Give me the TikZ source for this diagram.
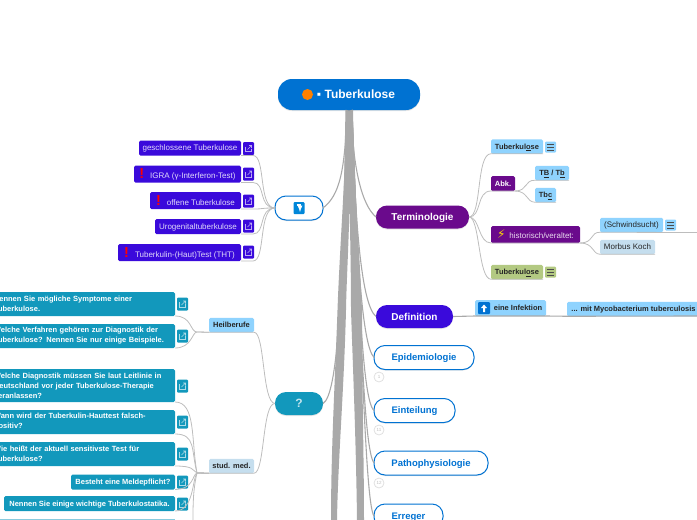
\documentclass[tikz,border=0pt]{standalone}
\usepackage{fontspec}
\setmainfont{Liberation Sans}
\newfontfamily\symbfont{DejaVu Sans}
\usetikzlibrary{shadows}

\definecolor{rootblue}{HTML}{0072D2}
\definecolor{indigo}{HTML}{3A0ADB}
\definecolor{violet}{HTML}{6A0A8C}
\definecolor{teal}{HTML}{1298BC}
\definecolor{sky}{HTML}{8FD3FE}
\definecolor{pale}{HTML}{C5DEEE}
\definecolor{moss}{HTML}{B3C982}
\definecolor{stem}{HTML}{A9A9A9}
\definecolor{twig}{HTML}{BDBDBD}

\tikzset{
  x=1pt, y=-1pt,
  every node/.style={inner sep=0pt, outer sep=0pt, text depth=0pt},
  mainnode/.style={rounded corners=11pt, minimum height=23pt, text=white, anchor=west,
    font=\fontsize{10}{12}\selectfont\bfseries,
    drop shadow={shadow xshift=0pt, shadow yshift=-1pt, opacity=.2}},
  hollownode/.style={mainnode, fill=white, draw=rootblue, line width=1pt, text=rootblue, minimum height=24pt,
    font=\fontsize{9.5}{12}\selectfont\bfseries},
  leaf/.style={rounded corners=1.5pt, anchor=east, fill=indigo, text=white!85!indigo,
    minimum height=15pt, font=\fontsize{8}{9}\selectfont},
  quiz/.style={leaf, fill=teal, text=white, font=\fontsize{7.5}{10}\selectfont\bfseries, align=left},
  quizwide/.style={quiz, minimum width=186pt, minimum height=24pt, text width=176pt, text depth=},
  tag/.style={rounded corners=1.5pt, anchor=west, fill=sky, text=black!85,
    minimum height=14.5pt, font=\fontsize{7.5}{9}\selectfont\bfseries},
  plaintag/.style={tag, font=\fontsize{8}{9}\selectfont},
  twigline/.style={draw=twig, line width=.8pt},
  stemline/.style={draw=stem, line width=1.1pt},
  hint/.style={circle, draw=black!12, line width=.8pt, fill=white, minimum size=10pt,
    text=black!25, font=\fontsize{4.5}{5}\selectfont},
  linkicon/.pic={
    \fill[pic actions, rounded corners=1pt] (-5.5,-6.5) rectangle (5.5,6.5);
    \draw[white, opacity=.65, line width=.6pt] (-3,-2) -- (-3,3) -- (2.5,3) -- (2.5,0);
    \draw[white, opacity=.65, line width=.6pt] (-1,1) -- (3,-3) (0.5,-3) -- (3,-3) -- (3,-.5);
  },
  noteicon/.pic={
    \fill[pic actions, rounded corners=1pt] (-5.5,-5.5) rectangle (5.5,5.5);
    \draw[black!70, line width=.6pt] (-3.5,-3) -- (3.5,-3) (-3.5,0) -- (3.5,0) (-3.5,3) -- (3.5,3);
  }
}

\begin{document}
\begin{tikzpicture}
  \clip (0,0) rectangle (697,520);

  % trunk
  \fill[stem] (346,110) -- (353,110) .. controls (353,170) and (359,240) .. (362,310)
    .. controls (362,390) and (364,460) .. (364,520) -- (357,520)
    .. controls (356,440) and (353,370) .. (351,310)
    .. controls (351,270) and (350,230) .. (349.5,200)
    .. controls (349,240) and (346.5,280) .. (346,310)
    .. controls (344,390) and (338,460) .. (337,520) -- (331,520)
    .. controls (331,450) and (335,380) .. (337.5,310)
    .. controls (340,240) and (346,170) .. (346,110) -- cycle;

  % central topic
  \node[mainnode, fill=rootblue, anchor=center, minimum width=142pt, minimum height=31pt, rounded corners=14pt,
    font=\fontsize{12}{14}\selectfont\bfseries, drop shadow={opacity=0}] (root) at (349,94.5) {\hspace{14pt}▪ Tuberkulose};
  \node[circle, fill=orange, minimum size=11pt] (dot) at (307.5,94.5) {};

  % main branches
  \node[hollownode, minimum width=48pt] (signs) at (275,208) {};
  \node[mainnode, fill=teal, minimum width=48pt, font=\fontsize{12}{14}\selectfont\bfseries] (quest) at (275,403.5) {\textcolor{white!75!teal}{?}};
  \node[mainnode, fill=violet, minimum width=93pt] (term) at (376,217) {Terminologie};
  \node[mainnode, fill=indigo, minimum width=77pt] (defi) at (376,316.5) {Definition};
  \node[hollownode, minimum width=100pt] (epid) at (374,357.5) {Epidemiologie};
  \node[hollownode, minimum width=81pt] (eint) at (374,410.5) {Einteilung};
  \node[hollownode, minimum width=114pt] (path) at (374,463) {Pathophysiologie};
  \node[hollownode, minimum width=69pt] (erre) at (374,516) {Erreger};

  \node[hint] (h1) at (379,377) {1};
  \node[hint] (h2) at (379,430) {11};
  \node[hint] (h3) at (379,483) {12};

  % stems from the root
  \draw[stemline] (root.south) ++(-2,0) .. controls (345,170) and (340,195) .. (signs.east);
  \draw[stemline] (root.south) ++(2,0) .. controls (353,170) and (362,205) .. (term.west);
  \draw[stemline] (root.south) ++(-3,0) .. controls (343,290) and (338,395) .. (quest.east);
  \draw[stemline] (root.south) ++(3,0) .. controls (355,230) and (362,305) .. (defi.west);
  \draw[stemline] (root.south) ++(3,0) .. controls (356,250) and (362,345) .. (epid.west);
  \draw[stemline] (root.south) ++(3,0) .. controls (358,280) and (362,400) .. (eint.west);
  \draw[stemline] (root.south) ++(3,0) .. controls (360,320) and (364,450) .. (path.west);
  \draw[stemline] (root.south) ++(3,0) .. controls (362,360) and (366,505) .. (erre.west);

  % left: indigo leaves
  \node[leaf, minimum width=102pt] (gesch) at (241,148) {geschlossene Tuberkulose};
  \node[leaf, minimum width=107pt, minimum height=17pt] (igra) at (241,174) {\textcolor{red}{\Large\bfseries !}\hspace{6pt}IGRA (γ-Interferon-Test)};
  \node[leaf, minimum width=91pt, minimum height=17pt] (offen) at (241,200.5) {\textcolor{red}{\Large\bfseries !}\hspace{6pt}offene Tuberkulose};
  \node[leaf, minimum width=86pt] (uro) at (241,226.5) {Urogenitaltuberkulose};
  \node[leaf, minimum width=123pt, minimum height=17pt] (thermo) at (241,252.5) {\textcolor{red}{\Large\bfseries !}\hspace{6pt}Tuberkulin-(Haut)Test (THT)};
  \pic[fill=indigo] at (248.5,148.5) {linkicon};
  \pic[fill=indigo] at (248.5,174) {linkicon};
  \pic[fill=indigo] at (248.5,201) {linkicon};
  \pic[fill=indigo] at (248.5,226) {linkicon};
  \pic[fill=indigo] at (248.5,252) {linkicon};
  \foreach \leafname/\leafy in {gesch/155.5,igra/182.5,offen/209,uro/234,thermo/261}
    \draw[twigline] (\leafname.south east) -- (253,\leafy) .. controls (266,\leafy) and (258,208) .. (signs.west);

  % right: terminologie
  \node[tag, minimum width=52pt] (tub) at (491,146.5) {Tuberkul\underline{o}se};
  \node[tag, fill=violet, text=white, minimum width=24pt, minimum height=15pt] (abk) at (491,183.5) {Abk.};
  \node[tag, minimum width=34pt] (tbb) at (535,173) {T\underline{B} / T\underline{b}};
  \node[tag, minimum width=21pt] (tbc) at (535,195) {Tb\underline{c}};
  \node[plaintag, fill=violet, text=white!85!violet, minimum width=89pt, minimum height=17pt] (hist) at (491,234.5) {\textcolor{yellow!80!orange}{\symbfont\large ⚡}\hspace{4pt}historisch/veraltet:};
  \node[plaintag, minimum width=63pt] (schw) at (600,225) {(Schwindsucht)};
  \node[plaintag, fill=pale, minimum width=55pt] (koch) at (600,247) {Morbus Koch};
  \node[tag, fill=moss, minimum width=52pt] (tgr) at (491,272) {Tuberkul\underline{o}se};
  \pic[fill=sky] at (550.5,147) {noteicon};
  \pic[fill=sky] at (670.5,225) {noteicon};
  \pic[fill=moss] at (550.5,272) {noteicon};
  \coordinate (schwend) at (697,232.5);
  \draw[twigline] (term.east) .. controls (482,217) and (476,153.5) .. (tub.south west) -- (tub.south east);
  \draw[twigline] (term.east) .. controls (482,217) and (476,191) .. (abk.south west) -- (abk.south east);
  \draw[twigline] (term.east) .. controls (480,217) and (478,243) .. (hist.south west) -- (hist.south east);
  \draw[twigline] (term.east) .. controls (480,217) and (478,279) .. (tgr.south west) -- (tgr.south east);
  \draw[twigline] (abk.south east) .. controls (528,191) and (524,180) .. (tbb.south west) -- (tbb.south east);
  \draw[twigline] (abk.south east) .. controls (528,191) and (526,202) .. (tbc.south west) -- (tbc.south east);
  \draw[twigline] (hist.south east) .. controls (594,243) and (590,232) .. (schw.south west) -- (schwend);
  \draw[twigline] (hist.south east) .. controls (594,243) and (592,254) .. (koch.south west) -- (koch.south east);

  % right: definition
  \node[tag, minimum width=71pt, minimum height=16pt] (infek) at (475,308) {\hspace{15pt}eine Infektion};
  \node[tag, minimum width=133pt] (myco) at (567,309) {... mit Mycobacterium tuberculosis};
  \coordinate (mycoend) at (697,316);
  \fill[rootblue, rounded corners=1pt] (478,302) rectangle (490,314);
  \fill[white] (484,304.5) -- (487,308) -- (485,308) -- (485,312) -- (483,312) -- (483,308) -- (481,308) -- cycle;
  \draw[stemline] (defi.east) -- (infek.south west) -- (infek.south east) -- (myco.south west) -- (mycoend);

  % left: questions
  \node[tag, minimum width=45pt] (heil) at (209,325) {Heilberufe};
  \node[tag, fill=pale, minimum width=45pt] (stud) at (209,466) {stud. med.};
  \node[quizwide] (q1) at (175,304) {Nennen Sie mögliche Symptome einer\\Tuberkulose.};
  \node[quizwide] (q2) at (175,336) {Welche Verfahren gehören zur Diagnostik der\\Tuberkulose? Nennen Sie nur einige Beispiele.};
  \node[quizwide, minimum height=33pt] (q3) at (175,385.5) {Welche Diagnostik müssen Sie laut Leitlinie in\\Deutschland vor jeder Tuberkulose-Therapie\\veranlassen?};
  \node[quizwide] (q4) at (175,422) {Wann wird der Tuberkulin-Hauttest falsch-\\positiv?};
  \node[quizwide] (q5) at (175,454) {Wie heißt der aktuell sensitivste Test für\\Tuberkulose?};
  \node[quiz, minimum width=104pt] (q6) at (175,482) {Besteht eine Meldepflicht?};
  \node[quiz, minimum width=171pt] (q7) at (175,503.5) {Nennen Sie einige wichtige Tuberkulostatika.};
  \fill[teal!50!white] (0,519) rectangle (175,520);
  \pic[fill=teal] at (182.5,304) {linkicon};
  \pic[fill=teal] at (182.5,336) {linkicon};
  \pic[fill=teal] at (182.5,386) {linkicon};
  \pic[fill=teal] at (182.5,422) {linkicon};
  \pic[fill=teal] at (182.5,454) {linkicon};
  \pic[fill=teal] at (182.5,482) {linkicon};
  \pic[fill=teal] at (182.5,504) {linkicon};
  \coordinate (qend) at (193,520);

  \draw[twigline] (quest.west) .. controls (262,403) and (265,332) .. (heil.south east) -- (heil.south west);
  \draw[twigline] (quest.west) .. controls (262,403) and (265,473) .. (stud.south east) -- (stud.south west);
  \draw[twigline] (heil.south west) -- (197,332) .. controls (190,332) and (192,316) .. (q1.south east);
  \draw[twigline] (heil.south west) -- (197,332) .. controls (192,332) and (192,348) .. (q2.south east);
  \draw[twigline] (stud.south west) -- (197,473) .. controls (191,440) and (196,402) .. (q3.south east);
  \draw[twigline] (stud.south west) -- (197,473) .. controls (191,450) and (196,434) .. (q4.south east);
  \draw[twigline] (stud.south west) -- (197,473) .. controls (192,470) and (194,466) .. (q5.south east);
  \draw[twigline] (stud.south west) -- (197,473) .. controls (192,475) and (194,489) .. (q6.south east);
  \draw[twigline] (stud.south west) -- (197,473) .. controls (192,480) and (194,511) .. (q7.south east);
  \draw[twigline] (stud.south west) -- (197,473) .. controls (193,490) and (193,505) .. (qend);

  % icon in the hollow branch
  \fill[rootblue!85!cyan, rounded corners=1pt] (293.5,202) rectangle (304.5,214);
  \draw[white, line width=1.2pt, -latex] (296.5,205) -- (300,205) -- (300,212);
\end{tikzpicture}
\end{document}
